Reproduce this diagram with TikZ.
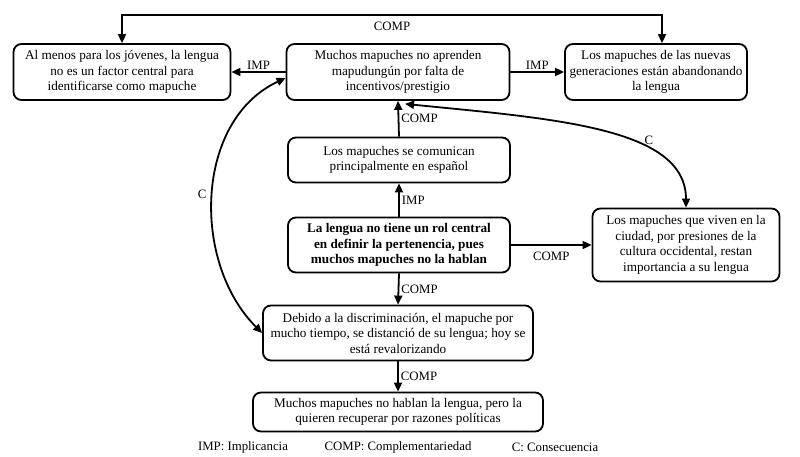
\documentclass[tikz,border=0pt]{standalone}
\usepackage{fontspec}
\setmainfont{Liberation Serif}
\usetikzlibrary{positioning, arrows.meta}

\tikzset{
  box/.style={draw, line width=1.8pt, rounded corners=8pt, align=center, inner sep=3pt,
    font=\fontsize{13.2}{15.5}\selectfont},
  arr/.style={line width=1.8pt, -{Triangle[length=9pt,width=8pt]}},
  darr/.style={line width=1.8pt, {Triangle[length=9pt,width=8pt]}-{Triangle[length=9pt,width=8pt]}},
  lab/.style={font=\fontsize{12.8}{14}\selectfont, inner sep=2pt}
}

\begin{document}
\begin{tikzpicture}[x=1pt,y=1pt]
\useasboundingbox (0,0) rectangle (800,457);

% top row
\node[box, minimum width=217pt, minimum height=56pt] (jovenes) at (122,385)
  {Al menos para los jóvenes, la lengua\\no es un factor central para\\identificarse como mapuche};
\node[box, minimum width=223pt, minimum height=56pt] (falta) at (398,385)
  {Muchos mapuches no aprenden\\mapudungún por falta de\\incentivos/prestigio};
\node[box, minimum width=182pt, minimum height=56pt] (nuevas) at (656,385)
  {Los mapuches de las nuevas\\generaciones están abandonando\\la lengua};

% middle column
\node[box, minimum width=222pt, minimum height=45pt] (espanol) at (399,297)
  {Los mapuches se comunican\\principalmente en español};
\node[box, minimum width=222pt, minimum height=55pt, font=\fontsize{13.2}{15.5}\selectfont\bfseries] (rol) at (399,212)
  {La lengua no tiene un rol central\\en definir la pertenencia, pues\\muchos mapuches no la hablan};
\node[box, minimum width=187pt, minimum height=73pt] (ciudad) at (686,212)
  {Los mapuches que viven en la\\ciudad, por presiones de la\\cultura occidental, restan\\importancia a su lengua};
\node[box, minimum width=270pt, minimum height=55pt] (discrim) at (398,124)
  {Debido a la discriminación, el mapuche por\\mucho tiempo, se distanció de su lengua; hoy se\\está revalorizando};
\node[box, minimum width=290pt, minimum height=39pt] (politicas) at (398,45)
  {Muchos mapuches no hablan la lengua, pero la\\quieren recuperar por razones políticas};

% legend
\node[lab] (leyimp) at (243,10) {IMP: Implicancia};
\node[lab] (leycomp) at (398,10) {COMP: Complementariedad};
\node[lab] (leyc) at (555,10) {C: Consecuencia};

% connectors
\draw[arr] (falta.west) -- node[lab, above]{IMP} (jovenes.east);
\draw[arr] (falta.east) -- node[lab, above]{IMP} (nuevas.west);
\draw[darr] (jovenes.north) -- ++(0,28) -| ([xshift=6pt]nuevas.north)
  node[lab, pos=0.25, below, yshift=-4pt]{COMP};
\draw[arr] (espanol.north) -- node[lab, right]{COMP} (falta.south);
\draw[arr] (rol.north) -- node[lab, right]{IMP} (espanol.south);
\draw[arr] (rol.east) -- node[lab, below, yshift=-4pt]{COMP} (ciudad.west);
\draw[arr] (rol.south) -- node[lab, right]{COMP} (discrim.north);
\draw[arr] (discrim.south) -- node[lab, right]{COMP} (politicas.north);
\draw[darr] ([yshift=-6pt]falta.west) to[out=205, in=135] node[lab, pos=0.5, left, xshift=-4pt]{C} (discrim.west);
\draw[darr] ([xshift=7pt,yshift=-3pt]falta.south) .. controls +(150,-15) and +(0,80) .. (ciudad.north)
  node[lab, pos=0.65, anchor=south west, inner sep=1pt]{C};

\end{tikzpicture}
\end{document}
